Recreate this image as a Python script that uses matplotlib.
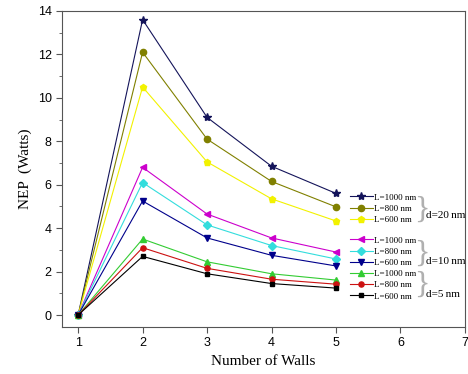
import matplotlib
matplotlib.use('Agg')
import matplotlib.pyplot as plt
from matplotlib.ticker import MultipleLocator

walls = [1, 2, 3, 4, 5]

# d=20 nm
d20_L1000 = [0, 13.6, 9.1, 6.85, 5.6]
d20_L800 = [0, 12.1, 8.1, 6.15, 4.98]
d20_L600 = [0, 10.5, 7.05, 5.35, 4.33]
# d=10 nm
d10_L1000 = [0, 6.8, 4.65, 3.55, 2.9]
d10_L800 = [0, 6.1, 4.15, 3.2, 2.58]
d10_L600 = [0, 5.25, 3.55, 2.75, 2.26]
# d=5 nm
d5_L1000 = [0, 3.5, 2.45, 1.9, 1.61]
d5_L800 = [0, 3.1, 2.15, 1.65, 1.42]
d5_L600 = [0, 2.7, 1.9, 1.45, 1.24]

labels = ['L=1000 nm', 'L=800 nm', 'L=600 nm']

plt.rcParams['font.family'] = 'Liberation Sans'

fig = plt.figure(figsize=(4.68, 3.74), dpi=100)
ax = fig.add_axes([0.1325, 0.1257, 0.861, 0.845])

serif = 'Liberation Serif'
lw = 0.8
ms = 4.5

l1, = ax.plot(walls, d20_L1000, color='#14145a', marker='*', lw=lw, ms=ms + 1.5)
l2, = ax.plot(walls, d20_L800, color='#808000', marker='o', lw=lw, ms=ms)
l3, = ax.plot(walls, d20_L600, color='#f2f200', marker='p', lw=lw, ms=ms)
l4, = ax.plot(walls, d10_L1000, color='#cc00cc', marker='<', lw=lw, ms=ms)
l5, = ax.plot(walls, d10_L800, color='#33dddd', marker='D', lw=lw, ms=ms - 0.8)
l6, = ax.plot(walls, d10_L600, color='#00008b', marker='v', lw=lw, ms=ms)
l7, = ax.plot(walls, d5_L1000, color='#33cc33', marker='^', lw=lw, ms=ms)
l8, = ax.plot(walls, d5_L800, color='#cc1111', marker='o', lw=lw, ms=ms - 0.8)
l9, = ax.plot(walls, d5_L600, color='black', marker='s', lw=lw, ms=ms - 1)

ax.set_xlim(0.75, 7)
ax.set_ylim(-0.55, 14)
ax.xaxis.set_major_locator(MultipleLocator(1))
ax.yaxis.set_major_locator(MultipleLocator(2))
ax.yaxis.set_minor_locator(MultipleLocator(1))
ax.tick_params(labelsize=9, direction='out', length=4, color='#555555')
ax.tick_params(which='minor', length=2, color='#555555')
for s in ax.spines.values():
    s.set_color('#555555')

ax.set_xlabel('Number of Walls', family=serif, fontsize=11)
ax.set_ylabel('NEP  (Watts)', family=serif, fontsize=11)

leg_kw = dict(frameon=False, prop={'family': serif, 'size': 6.5},
              handlelength=2.5, handletextpad=0.2, labelspacing=0.32,
              borderpad=0, borderaxespad=0)
leg1 = ax.legend([l1, l2, l3], labels, loc='upper left',
                 bbox_to_anchor=(0.715, 0.423), **leg_kw)
ax.add_artist(leg1)
ax.legend([l4, l5, l6, l7, l8, l9], labels * 2, loc='upper left',
          bbox_to_anchor=(0.715, 0.287), **leg_kw)

for yb, yt, txt in [(0.37, 0.354, 'd=20\u2009nm'),
                    (0.231, 0.206, 'd=10\u2009nm'),
                    (0.133, 0.104, 'd=5\u2009nm')]:
    ax.text(0.874, yb, '}', transform=ax.transAxes, family=serif,
            fontsize=23, color='#b0b0b0', va='center', ha='left')
    ax.text(0.904, yt, txt, transform=ax.transAxes, family=serif,
            fontsize=8, va='center', ha='left')

fig.savefig('out.png', dpi=100)
